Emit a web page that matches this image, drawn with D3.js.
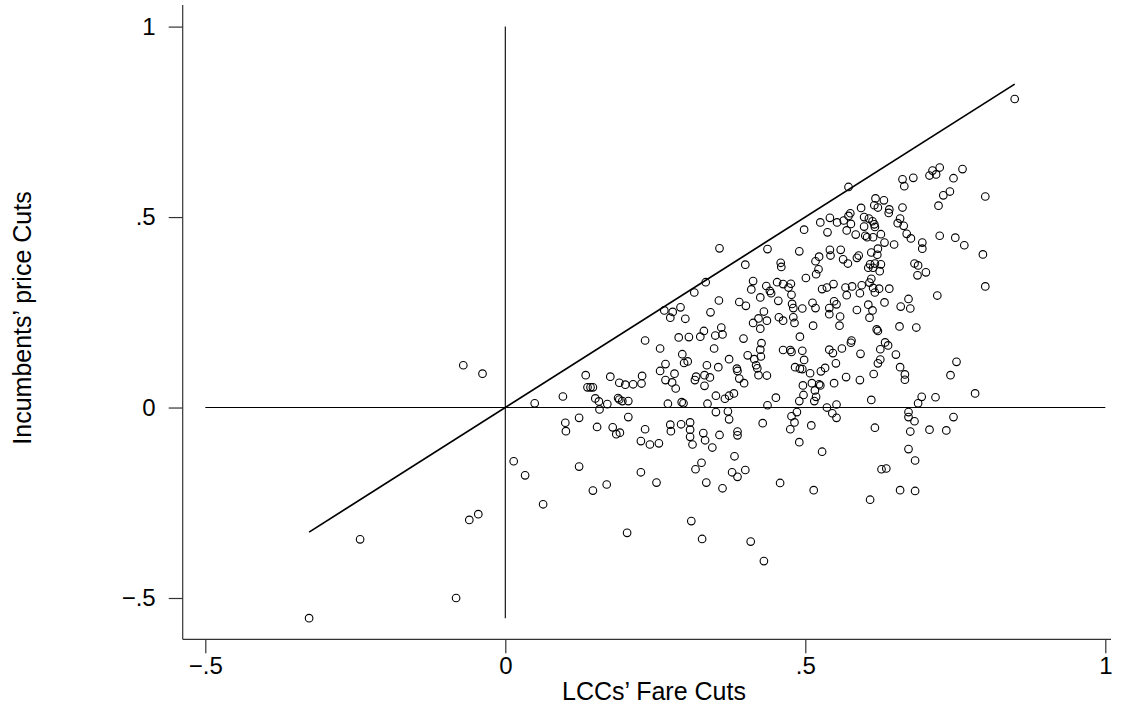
<!DOCTYPE html>
<html>
<head>
<meta charset="utf-8">
<script src="https://cdn.jsdelivr.net/npm/d3@7"></script>
<style>
  html, body { margin: 0; padding: 0; background: #fff; }
  svg { display: block; }
  text { font-family: "Liberation Sans", Arial, Helvetica, sans-serif; fill: #000; }
</style>
</head>
<body>
<svg id="chart" width="1127" height="711"></svg>
<script>
// ---- data: [LCCs' fare cut, incumbents' price cut] ----
const points = [
[-0.070,0.111],[-0.038,0.089],[-0.060,-0.295],[-0.045,-0.280],[-0.242,-0.346],[-0.082,-0.500],[-0.327,-0.553],
[0.265,0.255],[0.279,0.251],[0.292,0.263],[0.275,0.236],[0.300,0.233],[0.289,0.184],[0.306,0.185],[0.233,0.176],[0.258,0.155],[0.295,0.140],[0.298,0.117],[0.304,0.121],[0.267,0.114],[0.258,0.096],[0.282,0.089],[0.267,0.072],[0.278,0.066],[0.284,0.050],[0.134,0.085],[0.175,0.081],[0.228,0.083],[0.227,0.063],[0.190,0.065],[0.200,0.060],[0.213,0.061],[0.137,0.053],[0.142,0.053],[0.146,0.053],[0.096,0.029],[0.150,0.024],[0.156,0.016],[0.170,0.009],[0.188,0.025],[0.190,0.021],[0.195,0.017],[0.205,0.017],[0.049,0.011],[0.271,0.010],[0.294,0.014],[0.297,0.011],
[0.157,-0.005],[0.100,-0.040],[0.101,-0.062],[0.123,-0.027],[0.153,-0.051],[0.179,-0.052],[0.185,-0.070],[0.191,-0.066],[0.205,-0.025],[0.233,-0.057],[0.226,-0.088],[0.241,-0.097],[0.256,-0.094],[0.275,-0.045],[0.276,-0.062],[0.293,-0.044],[0.014,-0.141],[0.033,-0.178],[0.063,-0.254],[0.123,-0.155],[0.146,-0.218],[0.169,-0.202],[0.226,-0.170],[0.252,-0.197],[0.203,-0.329],
[0.498,0.467],[0.525,0.486],[0.541,0.498],[0.553,0.486],[0.537,0.460],
[0.357,0.418],[0.437,0.416],[0.490,0.410],[0.541,0.414],[0.559,0.414],[0.542,0.399],[0.563,0.389],[0.571,0.378],[0.523,0.396],[0.517,0.384],[0.459,0.380],[0.460,0.369],[0.400,0.375],[0.522,0.363],[0.518,0.350],[0.501,0.340],[0.334,0.329],[0.315,0.302],[0.413,0.332],[0.410,0.310],[0.435,0.319],[0.441,0.306],[0.443,0.300],[0.453,0.329],[0.463,0.324],[0.476,0.325],[0.472,0.315],[0.477,0.296],[0.528,0.311],[0.536,0.315],[0.547,0.324],[0.567,0.315],[0.569,0.295],[0.356,0.281],[0.390,0.277],[0.401,0.267],[0.425,0.289],[0.455,0.280],[0.478,0.272],[0.480,0.261],[0.495,0.260],[0.512,0.275],[0.517,0.261],[0.548,0.279],[0.552,0.271],[0.540,0.261],[0.540,0.245],[0.342,0.250],[0.431,0.252],[0.422,0.234],[0.436,0.228],[0.413,0.222],[0.425,0.207],[0.456,0.237],[0.463,0.228],[0.480,0.237],[0.482,0.222],[0.513,0.215],[0.558,0.239],[0.557,0.215],[0.325,0.186],[0.331,0.201],[0.350,0.189],[0.360,0.210],[0.362,0.192],[0.397,0.181],[0.491,0.186],[0.427,0.169],[0.425,0.152],[0.463,0.151],[0.475,0.151],[0.477,0.146],[0.495,0.149],[0.540,0.152],[0.546,0.143],[0.561,0.155],[0.348,0.155],[0.404,0.137],[0.415,0.127],[0.426,0.134],[0.373,0.127],[0.336,0.111],[0.355,0.106],[0.386,0.102],[0.387,0.096],[0.418,0.111],[0.420,0.103],[0.498,0.125],[0.483,0.106],[0.491,0.102],[0.495,0.101],[0.533,0.104],[0.526,0.095],[0.551,0.116],[0.508,0.090],[0.568,0.080],[0.316,0.072],[0.318,0.081],[0.332,0.085],[0.341,0.079],[0.332,0.057],[0.390,0.076],[0.398,0.064],[0.422,0.085],[0.436,0.084],[0.496,0.058],[0.511,0.064],[0.523,0.061],[0.525,0.058],[0.516,0.045],[0.548,0.064],[0.497,0.033],[0.518,0.028],[0.515,0.017],[0.490,0.017],[0.451,0.026],[0.351,0.031],[0.366,0.023],[0.373,0.031],[0.381,0.037],[0.337,0.010],[0.437,0.006],[0.552,0.008],[0.536,0.000],
[0.351,-0.012],[0.371,-0.010],[0.373,-0.031],[0.308,-0.039],[0.308,-0.058],[0.308,-0.077],[0.312,-0.097],[0.330,-0.067],[0.333,-0.086],[0.357,-0.072],[0.345,-0.105],[0.387,-0.063],[0.387,-0.073],[0.382,-0.128],[0.429,-0.041],[0.327,-0.145],[0.317,-0.162],[0.335,-0.197],[0.362,-0.212],[0.378,-0.170],[0.387,-0.182],[0.400,-0.164],[0.458,-0.198],[0.477,-0.023],[0.486,-0.012],[0.482,-0.039],[0.475,-0.057],[0.490,-0.091],[0.510,-0.047],[0.528,-0.116],[0.514,-0.217],[0.545,-0.015],[0.552,-0.027],[0.310,-0.298],[0.328,-0.345],[0.409,-0.352],[0.431,-0.403],
[0.572,0.579],[0.662,0.599],[0.665,0.581],[0.680,0.603],[0.707,0.609],[0.712,0.622],[0.718,0.612],[0.724,0.630],[0.747,0.602],[0.762,0.626],[0.741,0.567],[0.730,0.557],[0.722,0.530],[0.800,0.554],[0.617,0.549],[0.631,0.544],[0.615,0.531],[0.621,0.525],[0.593,0.524],[0.640,0.520],[0.639,0.511],[0.662,0.525],[0.575,0.510],[0.572,0.503],[0.564,0.491],[0.576,0.482],[0.598,0.500],[0.606,0.496],[0.612,0.489],[0.615,0.481],[0.598,0.475],[0.616,0.474],[0.658,0.496],[0.654,0.484],[0.664,0.477],[0.569,0.465],[0.584,0.454],[0.600,0.451],[0.603,0.447],[0.613,0.447],[0.626,0.455],[0.669,0.456],[0.676,0.444],[0.632,0.433],[0.648,0.428],[0.695,0.433],[0.724,0.451],[0.750,0.446],[0.765,0.426],[0.621,0.417],[0.695,0.417],
[0.586,0.393],[0.589,0.399],[0.610,0.407],[0.620,0.401],[0.796,0.402],[0.608,0.376],[0.616,0.378],[0.626,0.376],[0.605,0.367],[0.613,0.367],[0.624,0.358],[0.682,0.378],[0.688,0.373],[0.701,0.355],[0.687,0.347],[0.610,0.338],[0.607,0.328],[0.578,0.318],[0.594,0.321],[0.613,0.314],[0.623,0.312],[0.640,0.312],[0.591,0.300],[0.616,0.302],[0.720,0.294],[0.800,0.318],[0.632,0.276],[0.672,0.285],[0.659,0.265],[0.675,0.260],[0.605,0.270],[0.612,0.255],[0.586,0.256],[0.607,0.236],[0.657,0.213],[0.685,0.210],[0.619,0.205],[0.621,0.201],[0.577,0.176],[0.576,0.170],[0.592,0.141],[0.633,0.171],[0.638,0.163],[0.625,0.153],[0.651,0.139],[0.625,0.126],[0.621,0.116],[0.658,0.106],[0.666,0.087],[0.666,0.073],[0.614,0.088],[0.591,0.072],[0.752,0.120],[0.742,0.085],[0.783,0.037],[0.610,0.020],[0.694,0.028],[0.688,0.011],[0.717,0.027],
[0.672,-0.012],[0.672,-0.025],[0.682,-0.036],[0.747,-0.025],[0.616,-0.053],[0.675,-0.063],[0.707,-0.058],[0.735,-0.060],[0.672,-0.109],[0.683,-0.139],[0.627,-0.162],[0.635,-0.160],[0.658,-0.217],[0.683,-0.219],[0.608,-0.242],
[0.849,0.810]
];

const xTicks = [-0.5, 0, 0.5, 1];
const xTickLabels = ["\u2212.5", "0", ".5", "1"];
const yTicks = [-0.5, 0, 0.5, 1];
const yTickLabels = ["\u2212.5", "0", ".5", "1"];
const xTitle = "LCCs\u2019 Fare Cuts";
const yTitle = "Incumbents\u2019 price Cuts";

// ---- layout ----
const svg = d3.select("#chart");
const axisX = 182.7, axisY = 639.3;

const x = d3.scaleLinear().domain([-0.5, 1]).range([205.3, 1105.3]);
const y = d3.scaleLinear().domain([-0.5, 1]).range([598, 26.6]);

// axes
const gx = svg.append("g").attr("transform", `translate(0,${axisY})`)
  .call(d3.axisBottom(x).tickValues(xTicks)
    .tickFormat((d, i) => xTickLabels[i]).tickSize(14).tickPadding(4));
const gy = svg.append("g").attr("transform", `translate(${axisX},0)`)
  .call(d3.axisLeft(y).tickValues(yTicks)
    .tickFormat((d, i) => yTickLabels[i]).tickSize(14).tickPadding(13));
[gx, gy].forEach(g => {
  g.select(".domain").remove();
  g.selectAll(".tick line").attr("stroke", "#333").attr("stroke-width", 1.2);
  g.selectAll(".tick text").attr("font-size", 24)
    .attr("font-family", '"Liberation Sans", Arial, Helvetica, sans-serif').attr("fill", "#000");
});

svg.append("line").attr("x1", axisX).attr("x2", axisX).attr("y1", 5).attr("y2", axisY)
  .attr("stroke", "#333").attr("stroke-width", 1.2);
svg.append("line").attr("x1", axisX).attr("x2", 1111).attr("y1", axisY).attr("y2", axisY)
  .attr("stroke", "#333").attr("stroke-width", 1.2);

// reference lines
const xs = points.map(p => p[0]), ys = points.map(p => p[1]);
const [xmin, xmax] = d3.extent(xs);
const ymin = d3.min(ys);

svg.append("line").attr("x1", x(-0.5)).attr("x2", x(1)).attr("y1", y(0)).attr("y2", y(0))
  .attr("stroke", "#000").attr("stroke-width", 1.1);
svg.append("line").attr("x1", x(0)).attr("x2", x(0)).attr("y1", y(1)).attr("y2", y(ymin))
  .attr("stroke", "#000").attr("stroke-width", 1.1);
svg.append("line").attr("x1", x(xmin)).attr("y1", y(xmin)).attr("x2", x(xmax)).attr("y2", y(xmax))
  .attr("stroke", "#000").attr("stroke-width", 1.7);

// points
svg.append("g").selectAll("circle").data(points).join("circle")
  .attr("cx", d => x(d[0])).attr("cy", d => y(d[1])).attr("r", 3.8)
  .attr("fill", "none").attr("stroke", "#000").attr("stroke-width", 1.1);

// titles
svg.append("text").attr("x", 654).attr("y", 700).attr("text-anchor", "middle")
  .attr("font-size", 25).text(xTitle);
svg.append("text").attr("transform", "translate(31,318) rotate(-90)").attr("text-anchor", "middle")
  .attr("font-size", 25).text(yTitle);
</script>
</body>
</html>
